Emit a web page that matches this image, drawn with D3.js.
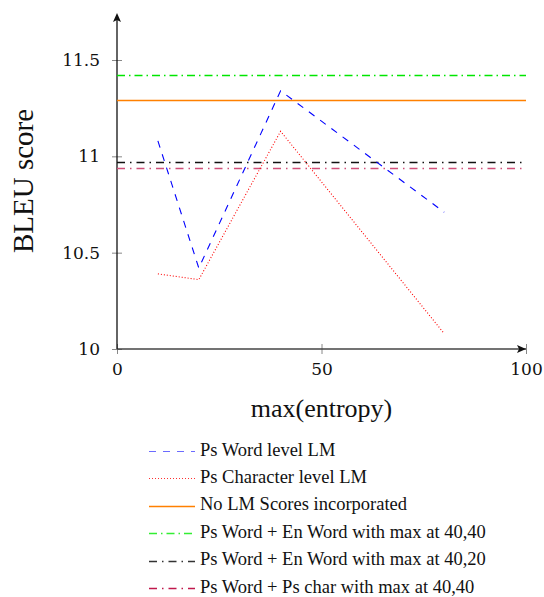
<!DOCTYPE html>
<html><head><meta charset="utf-8">
<script src="https://cdn.jsdelivr.net/npm/d3@7"></script>
<style>body{margin:0;background:#fff}svg{display:block}</style>
</head><body>
<script>
const xValues = [10, 20, 40, 80];
const psWord = [11.08, 10.42, 11.34, 10.71];
const psChar = [10.39, 10.36, 11.13, 10.08];
const noLM = 11.29;
const wordEn4040 = 11.42;
const wordEn4020 = 10.97;
const wordChar4040 = 10.94;
const xTicks = [0, 50, 100];
const yTicks = [10, 10.5, 11, 11.5];
const legendLabels = ["Ps Word level LM","Ps Character level LM","No LM Scores incorporated","Ps Word + En Word with max at 40,40","Ps Word + En Word with max at 40,20","Ps Word + Ps char with max at 40,40"];

const SERIF = "'Liberation Serif','Times New Roman',Times,'DejaVu Serif',serif";
const TICKF = "'DejaVu Serif','Liberation Serif',serif";
const W = 544, H = 597;
const svg = d3.select("body").append("svg").attr("width", W).attr("height", H);
const x = d3.scaleLinear().domain([0, 100]).range([117, 526]);
const y = d3.scaleLinear().domain([10, 11.5]).range([349, 60]);

const styles = [
  {color:"#0000ff", legend:"#6b6bff", dash:"7,7", w:1.1},
  {color:"#ff0000", legend:"#ff3030", dash:"1,2", w:1.1},
  {color:"#ff8000", legend:"#ff8000", dash:null, w:1.3},
  {color:"#00e600", legend:"#33ee33", dash:"8,4,1.5,4", w:1.3},
  {color:"#111111", legend:"#333333", dash:"8,5,1.5,5", w:1.3},
  {color:"#d0507a", legend:"#c0184c", dash:"8,5,1.5,5", w:1.3}
];

// axes
const yAxis = d3.axisLeft(y).tickValues(yTicks).tickFormat(d => d3.format("")(d)).tickSize(5);
const gy = svg.append("g").attr("transform", `translate(${x(0)},0)`).call(yAxis);
gy.select(".domain").remove();
gy.selectAll(".tick line").attr("x2", 5).attr("x1", -5).attr("stroke", "#888");
gy.selectAll(".tick text").attr("x", -17).attr("font-size", 17).attr("fill", "#111").style("font-family", TICKF);

const xAxis = d3.axisBottom(x).tickValues(xTicks).tickSize(5);
const gx = svg.append("g").attr("transform", `translate(0,${y(10)})`).call(xAxis);
gx.select(".domain").remove();
gx.selectAll(".tick line").attr("y1", -5).attr("y2", 5).attr("stroke", "#888");
gx.selectAll(".tick text").attr("y", 14).attr("font-size", 17).attr("fill", "#111").style("font-family", TICKF);

// axis lines with arrows
svg.append("line").attr("x1", x(0)).attr("x2", x(100)).attr("y1", y(10)).attr("y2", y(10)).attr("stroke", "#444").attr("stroke-width", 1.3);
svg.append("line").attr("x1", x(0)).attr("x2", x(0)).attr("y1", y(10)).attr("y2", 16).attr("stroke", "#111").attr("stroke-width", 1.3);
svg.append("path").attr("d", `M${x(100)},${y(10)} l-9,-4 l2,4 l-2,4 z`).attr("fill", "#111");
svg.append("path").attr("d", `M${x(0)},13 l-4,9 l4,-2 l4,2 z`).attr("fill", "#111");

// horizontal reference lines
const hlines = [[noLM, 2], [wordEn4040, 3], [wordEn4020, 4], [wordChar4040, 5]];
hlines.forEach(([v, i]) => {
  const s = styles[i];
  svg.append("line").attr("x1", x(0)).attr("x2", x(100)).attr("y1", Math.round(y(v)) + 0.5).attr("y2", Math.round(y(v)) + 0.5)
    .attr("stroke", s.color).attr("stroke-width", s.w).attr("stroke-dasharray", s.dash);
});

// series lines
const line = d3.line().x((d, i) => x(xValues[i])).y(d => y(d));
[[psWord, 0], [psChar, 1]].forEach(([vals, i]) => {
  const s = styles[i];
  svg.append("path").attr("d", line(vals)).attr("fill", "none").attr("stroke", s.color)
    .attr("stroke-width", s.w).attr("stroke-dasharray", s.dash);
});

// axis titles
svg.append("text").attr("transform", `translate(33,181) rotate(-90)`).attr("text-anchor", "middle")
  .attr("font-size", 29).attr("fill", "#111").style("font-family", SERIF).text("BLEU score");
svg.append("text").attr("x", x(50)).attr("y", 417).attr("text-anchor", "middle").attr("font-size", 26)
  .attr("fill", "#111").style("font-family", SERIF).text("max(entropy)");

// legend
const ly = d3.scaleLinear().domain([0, 5]).range([451, 588]);
legendLabels.forEach((lab, i) => {
  const s = styles[i];
  const yy = Math.round(ly(i)) + 0.5;
  svg.append("line").attr("x1", 149).attr("x2", 195).attr("y1", yy).attr("y2", yy)
    .attr("stroke", s.legend).attr("stroke-width", s.w).attr("stroke-dasharray", s.dash);
  svg.append("text").attr("x", 200).attr("y", ly(i) + 4.5).attr("font-size", 18.5).attr("fill", "#111")
    .style("font-family", SERIF).text(lab);
});
</script>
</body></html>
